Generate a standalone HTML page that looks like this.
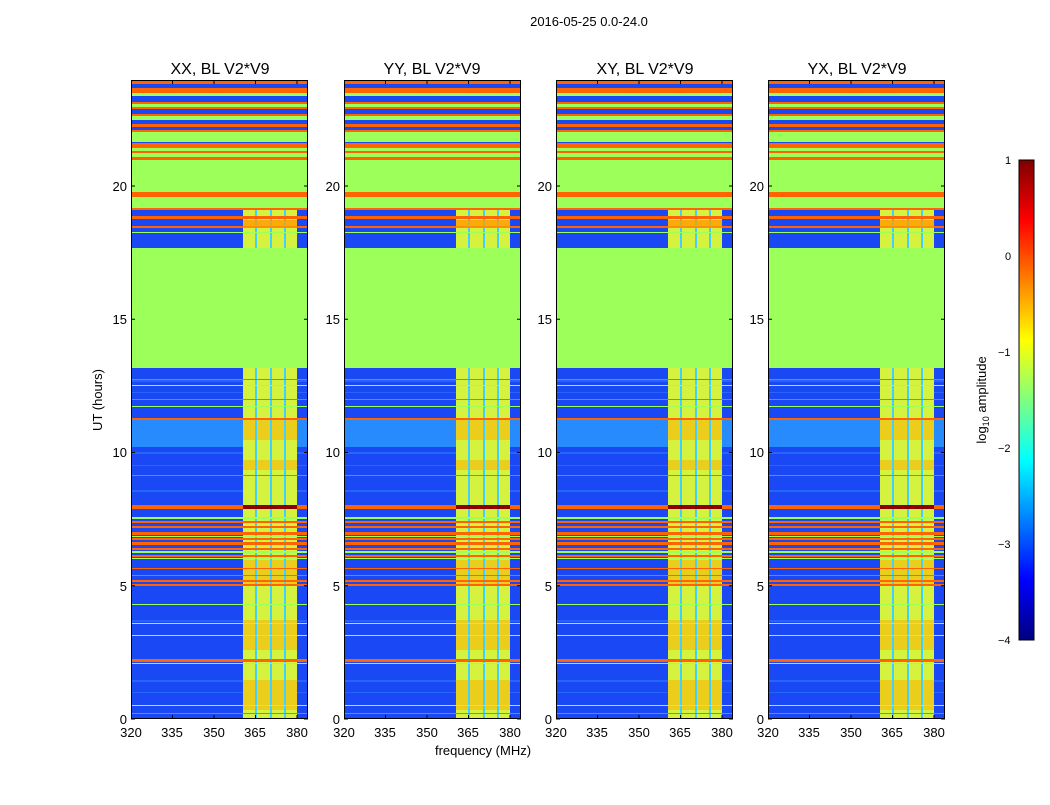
<!DOCTYPE html>
<html><head><style>
body{margin:0;background:#fff;}
svg text{font-family:"Liberation Sans",sans-serif;}
</style></head><body>
<svg width="1050" height="800" viewBox="0 0 1050 800" xmlns="http://www.w3.org/2000/svg">
<defs>
<g id="p">
<rect x="0" y="0" width="177" height="639" fill="#1a48f5"/>
<rect x="0" y="340" width="177" height="27" fill="#2a9cff" opacity="0.8"/>
<g fill="#2c7cff" opacity="0.6">
<rect x="0" y="300" width="177" height="2"/><rect x="0" y="312" width="177" height="1"/><rect x="0" y="372" width="177" height="2"/>
<rect x="0" y="385" width="177" height="1"/><rect x="0" y="410" width="177" height="2"/><rect x="0" y="540" width="177" height="2"/>
<rect x="0" y="600" width="177" height="2"/><rect x="0" y="612" width="177" height="1"/>
</g>
<!-- columns -->
<g fill="#d4f23e">
<rect x="112" y="130" width="12" height="509"/><rect x="126" y="130" width="13" height="509"/>
<rect x="141" y="130" width="12" height="509"/><rect x="155" y="130" width="11" height="509"/>
</g>
<g fill="#ffb000" opacity="0.55">
<rect x="112" y="340" width="54" height="20"/><rect x="112" y="380" width="54" height="10"/>
<rect x="112" y="480" width="54" height="25"/><rect x="112" y="540" width="54" height="30"/>
<rect x="112" y="600" width="54" height="30"/>
</g>
<g fill="#40d0ff"><rect x="124" y="130" width="2" height="509"/><rect x="139" y="130" width="2" height="509"/><rect x="153" y="130" width="2" height="509"/></g>
<!-- top stripes -->
<g fill="#ff6400">
<rect x="0" y="0" width="177" height="4"/><rect x="0" y="8" width="177" height="5"/>
<rect x="0" y="22" width="177" height="2"/><rect x="0" y="27" width="177" height="2"/>
<rect x="0" y="34" width="177" height="2"/><rect x="0" y="44" width="177" height="3"/>
<rect x="0" y="50" width="177" height="2"/><rect x="0" y="63" width="177" height="5"/>
<rect x="0" y="71" width="177" height="2"/><rect x="0" y="77" width="177" height="3"/>
</g>
<g fill="#9cff5a">
<rect x="0" y="13" width="177" height="3"/><rect x="0" y="24" width="177" height="3"/>
<rect x="0" y="36" width="177" height="4"/><rect x="0" y="52" width="177" height="10"/>
<rect x="0" y="68" width="177" height="3"/><rect x="0" y="73" width="177" height="4"/>
<rect x="0" y="80" width="177" height="50"/><rect x="0" y="118" width="177" height="8"/>
<rect x="0" y="168" width="177" height="120"/>
</g>
<rect x="0" y="112" width="177" height="5" fill="#ff6400"/>
<rect x="0" y="128" width="177" height="2" fill="#ff6400"/>
<rect x="0" y="136" width="177" height="3" fill="#ff6400"/>
<rect x="0" y="146" width="177" height="2" fill="#ff6400"/>
<rect x="0" y="152" width="177" height="1" fill="#9cff5a"/>
<rect x="112" y="140" width="54" height="8" fill="#ff9a00" opacity="0.8"/>
<!-- lower stripes -->
<g fill="#ff6400">
<rect x="0" y="299" width="177" height="1"/><rect x="0" y="319" width="177" height="1"/>
<rect x="0" y="338" width="177" height="2"/><rect x="0" y="395" width="177" height="1"/>
<rect x="0" y="425" width="177" height="4"/><rect x="0" y="441" width="177" height="2"/>
<rect x="0" y="446" width="177" height="2"/><rect x="0" y="452" width="177" height="3"/>
<rect x="0" y="458" width="177" height="2"/><rect x="0" y="462" width="177" height="3"/>
<rect x="0" y="468" width="177" height="2"/><rect x="0" y="475" width="177" height="2"/>
<rect x="0" y="488" width="177" height="1"/><rect x="0" y="495" width="177" height="1"/>
<rect x="0" y="500" width="177" height="2"/><rect x="0" y="504" width="177" height="2"/>
<rect x="0" y="579" width="177" height="3"/><rect x="0" y="633" width="177" height="1"/>
</g>
<rect x="112" y="425" width="54" height="4" fill="#8a0000"/>
<g fill="#9cff5a">
<rect x="0" y="305" width="177" height="1"/><rect x="0" y="326" width="177" height="1"/>
<rect x="0" y="437" width="177" height="2"/><rect x="0" y="456" width="177" height="1"/>
<rect x="0" y="471" width="177" height="2"/><rect x="0" y="478" width="177" height="1"/>
<rect x="0" y="524" width="177" height="1"/><rect x="0" y="543" width="177" height="1"/>
<rect x="0" y="555" width="177" height="1"/><rect x="0" y="583" width="177" height="1"/>
<rect x="0" y="625" width="177" height="1"/>
</g>
<!-- frame and ticks -->
<rect x="0.5" y="0.5" width="176" height="638" fill="none" stroke="#000"/>
<g stroke="#000">
<path d="M0 639h4M0 505.8h4M0 372.5h4M0 239.3h4M0 106h4M177 639h-4M177 505.8h-4M177 372.5h-4M177 239.3h-4M177 106h-4"/>
<path d="M41.5 639v-4M83 639v-4M124.5 639v-4M166 639v-4M41.5 0v4M83 0v4M124.5 0v4M166 0v4"/>
</g>
</g>
<linearGradient id="jet" x1="0" y1="1" x2="0" y2="0">
<stop offset="0" stop-color="#00007f"/><stop offset="0.125" stop-color="#0000ff"/>
<stop offset="0.375" stop-color="#00ffff"/><stop offset="0.625" stop-color="#ffff00"/>
<stop offset="0.875" stop-color="#ff0000"/><stop offset="1" stop-color="#7f0000"/>
</linearGradient>
</defs>
<text x="589" y="26" font-size="13" text-anchor="middle">2016-05-25 0.0-24.0</text>
<use href="#p" x="131" y="80"/><use href="#p" x="344" y="80"/>
<use href="#p" x="556" y="80"/><use href="#p" x="768" y="80"/>
<g font-size="16" text-anchor="middle">
<text x="220" y="74">XX, BL V2*V9</text><text x="432" y="74">YY, BL V2*V9</text>
<text x="645" y="74">XY, BL V2*V9</text><text x="857" y="74">YX, BL V2*V9</text>
</g>
<g font-size="13" text-anchor="end">
<text x="127" y="724">0</text><text x="127" y="591">5</text><text x="127" y="457">10</text><text x="127" y="324">15</text><text x="127" y="191">20</text>
<text x="340" y="724">0</text><text x="340" y="591">5</text><text x="340" y="457">10</text><text x="340" y="324">15</text><text x="340" y="191">20</text>
<text x="552" y="724">0</text><text x="552" y="591">5</text><text x="552" y="457">10</text><text x="552" y="324">15</text><text x="552" y="191">20</text>
<text x="764" y="724">0</text><text x="764" y="591">5</text><text x="764" y="457">10</text><text x="764" y="324">15</text><text x="764" y="191">20</text>
</g>
<g font-size="13" text-anchor="middle">
<text x="131" y="737">320</text><text x="172" y="737">335</text><text x="214" y="737">350</text><text x="255" y="737">365</text><text x="297" y="737">380</text>
<text x="344" y="737">320</text><text x="385" y="737">335</text><text x="427" y="737">350</text><text x="468" y="737">365</text><text x="510" y="737">380</text>
<text x="556" y="737">320</text><text x="597" y="737">335</text><text x="639" y="737">350</text><text x="680" y="737">365</text><text x="722" y="737">380</text>
<text x="768" y="737">320</text><text x="809" y="737">335</text><text x="851" y="737">350</text><text x="892" y="737">365</text><text x="934" y="737">380</text>
<text x="483" y="755">frequency (MHz)</text>
<text transform="translate(102,400) rotate(-90)">UT (hours)</text>
<text transform="translate(986,400) rotate(-90)">log<tspan font-size="9" dy="3">10</tspan><tspan dy="-3"> amplitude</tspan></text>
</g>
<rect x="1019" y="160" width="15" height="480" fill="url(#jet)" stroke="#000"/>
<g font-size="11">
<text x="1005" y="164">1</text><text x="1005" y="260">0</text><text x="998" y="356">−1</text>
<text x="998" y="452">−2</text><text x="998" y="548">−3</text><text x="998" y="644">−4</text>
</g>
</svg>
</body></html>
